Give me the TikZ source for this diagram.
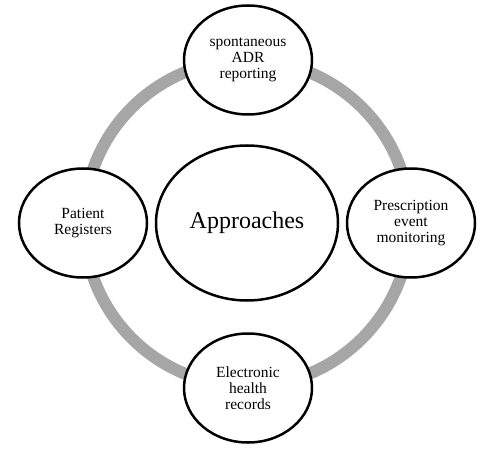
\documentclass[tikz,border=0pt]{standalone}
\usepackage{fontspec}
\setmainfont{Liberation Serif}
\usetikzlibrary{shapes.geometric}
\begin{document}
\begin{tikzpicture}[x=1pt,y=-1pt,
  item/.style={draw=black,line width=2.5pt,fill=white,ellipse,minimum width=128pt,minimum height=109pt,inner sep=0pt,align=center,font=\fontsize{15.5}{16}\selectfont},
  hub/.style={draw=black,line width=2.5pt,fill=white,ellipse,minimum width=182pt,minimum height=155pt,inner sep=0pt,font=\fontsize{24}{26}\selectfont},
  ring/.style={draw={rgb,255:red,166;green,166;blue,166},line width=12pt}]
\useasboundingbox (0,0) rectangle (481,449);
\coordinate (c) at (247,223);
\draw[ring] (c) circle[radius=163];
\node[hub] (hub) at (247,223) {Approaches};
\node[item] (top) at (248,60) {spontaneous\\ADR\\reporting};
\node[item] (right) at (411,223) {Prescription\\event\\monitoring};
\node[item] (bottom) at (248,388) {Electronic\\health\\records};
\node[item] (left) at (83,223) {Patient\\Registers};
\end{tikzpicture}
\end{document}
